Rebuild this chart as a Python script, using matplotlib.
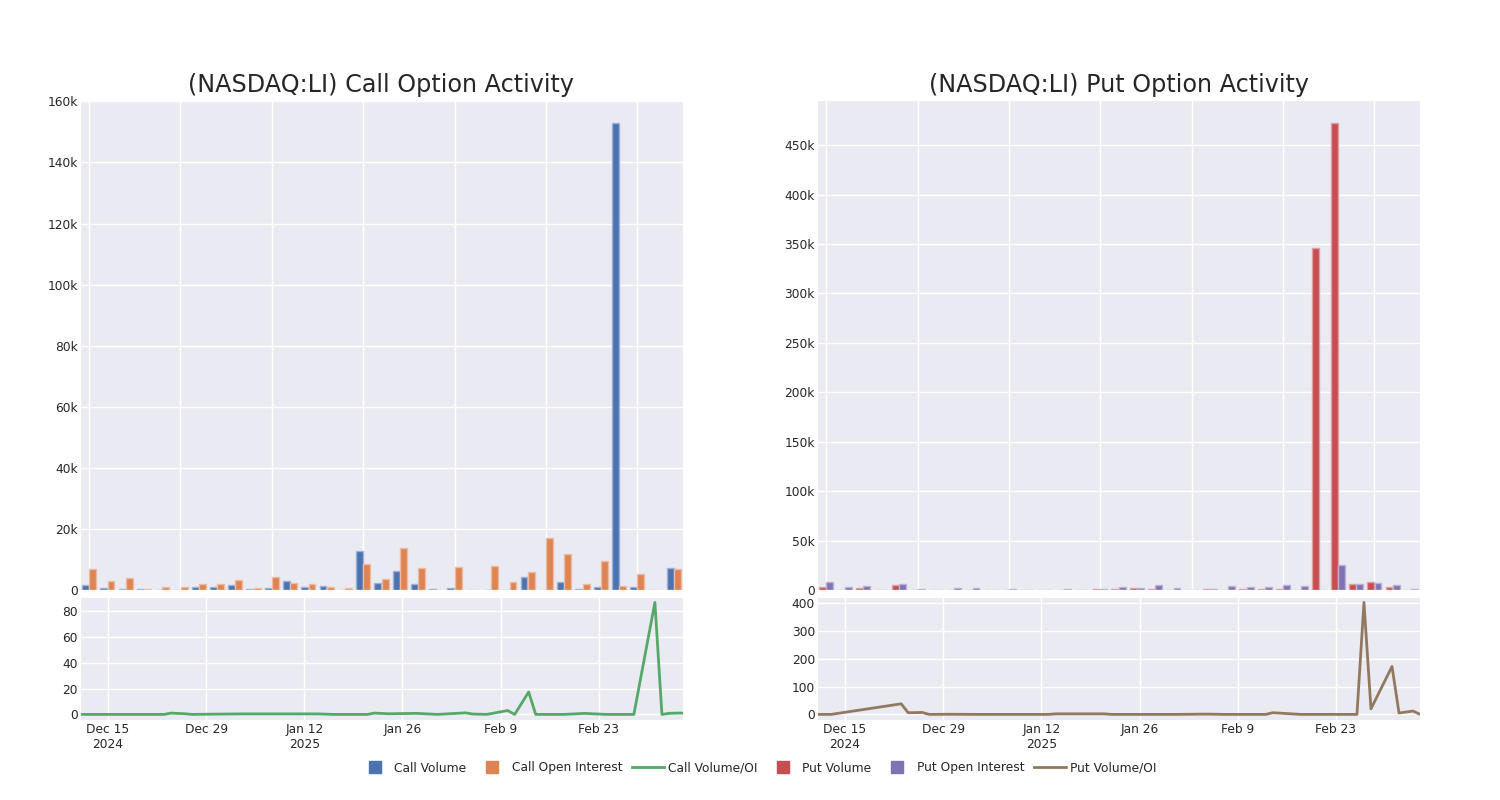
#!/usr/bin/env python3
import pandas as pd
import matplotlib

# Use non-interactive backend for headless environments
matplotlib.use("Agg")
import matplotlib.pyplot as plt  # noqa: E402
import matplotlib.colors as mcolors  # noqa: E402
from matplotlib.lines import Line2D  # noqa: E402
from matplotlib.ticker import FuncFormatter, MultipleLocator  # noqa: E402

# -------------------------------
# Data
# -------------------------------
call_volume = [1.6, 0.6, 0.2, 0.2, 0.1, 0.0, 1.0, 0.9, 1.7, 0.2, 0.7,
               3.0, 1.0, 1.3, 0.0, 12.8, 2.2, 6.3, 1.9, 0.2, 0.6, 0.1,
               0.1, 0.1, 4.2, 0.0, 2.7, 0.2, 1.0, 152.8, 1.0, 0.1, 7.2]
call_open_interest = [7.0, 3.0, 4.0, 0.2, 1.0, 0.9, 2.1, 2.1, 3.3, 0.7, 4.2,
                      2.4, 2.1, 0.9, 0.6, 8.6, 3.7, 13.9, 7.2, 0.0, 7.4, 0.0,
                      7.7, 2.7, 5.8, 17.1, 11.7, 2.1, 9.6, 1.4, 5.2, 0.1, 7.0]
put_volume = [3.4, 0.0, 2.4, 0.3, 5.1, 0.3, 0.2, 0.3, 0.0, 0.3, 0.3,
              0.3, 0.2, 0.0, 0.2, 1.0, 1.0, 2.0, 0.7, 0.3, 0.0, 0.7,
              0.3, 0.7, 0.7, 1.3, 0.3, 346.0, 472.0, 6.1, 8.4, 2.7, 0.3]
put_open_interest = [8.4, 3.4, 4.4, 0.0, 5.7, 0.7, 0.0, 2.0, 2.0, 0.2, 1.3,
                     0.3, 0.0, 0.7, 0.2, 1.0, 3.0, 1.7, 5.1, 2.0, 0.0, 1.0,
                     4.0, 2.7, 2.7, 4.7, 4.4, 0.3, 25.0, 6.4, 7.1, 4.7, 1.3]

ratio_dates = ["2024-12-11", "2024-12-13", "2024-12-23", "2024-12-24", "2024-12-26",
               "2024-12-27", "2024-12-30", "2025-01-03", "2025-01-08", "2025-01-13",
               "2025-01-14", "2025-01-16", "2025-01-21", "2025-01-22", "2025-01-24",
               "2025-01-28", "2025-01-31", "2025-02-04", "2025-02-05", "2025-02-07",
               "2025-02-10", "2025-02-11", "2025-02-13", "2025-02-14", "2025-02-18",
               "2025-02-21", "2025-02-24", "2025-02-26", "2025-02-27", "2025-02-28",
               "2025-03-03", "2025-03-04", "2025-03-05", "2025-03-06", "2025-03-07"]
call_vol_oi = [0.0, 0.0, 0.0, 1.0, 0.5, 0.0, 0.2, 0.4, 0.4, 0.4,
               0.4, 0.0, 0.0, 1.0, 0.5, 0.8, 0.0, 1.2, 0.3, 0.0,
               3.0, 0.0, 17.4, 0.0, 0.0, 0.8, 0.0, 0.0, 0.0, 0.0,
               87.0, 0.0, 0.8, 1.0, 1.0]
put_vol_oi = [0.0, 0.0, 38.0, 6.0, 7.0, 0.0, 0.5, 0.0, 0.0, 0.0,
              2.0, 2.0, 2.0, 0.0, 0.0, 0.0, 0.0, 1.0, 1.0, 0.0,
              0.0, 0.0, 0.0, 6.0, 0.0, 0.0, 0.0, 0.0, 402.0, 20.0,
              172.0, 5.0, 8.5, 12.0, 0.0]

date_ticks = ["2024-12-15", "2024-12-29", "2025-01-12", "2025-01-26", "2025-02-09", "2025-02-23"]
date_tick_labels = ["Dec 15\n2024", "Dec 29", "Jan 12\n2025", "Jan 26", "Feb 9", "Feb 23"]

COLORS = {
    "call_vol": "#4C72B0",
    "call_oi": "#DD8452",
    "call_ratio": "#55A868",
    "put_vol": "#C44E52",
    "put_oi": "#8172B3",
    "put_ratio": "#937860",
}

SMALL = 8.8

plt.rcParams.update({
    "font.family": ["DejaVu Sans"],
    "axes.facecolor": "#EAEAF2",
    "axes.edgecolor": "white",
    "axes.grid": True,
    "grid.color": "white",
    "grid.linewidth": 1.0,
    "axes.axisbelow": True,
    "xtick.color": "#262626",
    "ytick.color": "#262626",
    "text.color": "#262626",
    "xtick.major.size": 0,
    "ytick.major.size": 0,
    "xtick.major.pad": 2.5,
    "ytick.major.pad": 1.5,
    "xtick.labelsize": SMALL,
    "ytick.labelsize": SMALL,
})


def lighten(color, amount=0.45):
    r, g, b = mcolors.to_rgb(color)
    return (r + (1 - r) * amount, g + (1 - g) * amount, b + (1 - b) * amount)


def k_fmt(v, _pos):
    return "0" if v == 0 else f"{int(round(v))}k"


def draw_panel(fig, left, title, vol, oi, ratio, c_vol, c_oi, c_ratio, ystep, rstep):
    ax_top = fig.add_axes([left, 0.2625, 0.402, 0.6125])
    ax_bot = fig.add_axes([left, 0.1, 0.402, 0.154])

    # grouped bars (categorical positions)
    idx = list(range(len(vol)))
    w = 0.38
    ax_top.bar([i - 0.2 for i in idx], vol, width=w, color=c_vol,
               edgecolor=lighten(c_vol), linewidth=1)
    ax_top.bar([i + 0.2 for i in idx], oi, width=w, color=c_oi,
               edgecolor=lighten(c_oi), linewidth=1)
    ax_top.set_xlim(-0.5, len(vol) - 0.5)
    ax_top.set_xticks(range(0, len(vol), 5))
    ax_top.set_xticklabels([])
    ax_top.set_ylim(0, max(max(vol), max(oi)) * 1.05)
    ax_top.yaxis.set_major_locator(MultipleLocator(ystep))
    ax_top.yaxis.set_major_formatter(FuncFormatter(k_fmt))
    ax_top.set_title(title, fontsize=17.2, pad=6)

    # volume / open interest ratio line
    dates = pd.to_datetime(ratio_dates)
    ax_bot.plot(dates, ratio, color=c_ratio, linewidth=2)
    ax_bot.set_xlim(dates[0], dates[-1])
    ax_bot.set_xticks(pd.to_datetime(date_ticks))
    ax_bot.set_xticklabels(date_tick_labels)
    ax_bot.yaxis.set_major_locator(MultipleLocator(rstep))
    return ax_top, ax_bot


def main():
    fig = plt.figure(figsize=(15, 8), dpi=100)

    draw_panel(fig, 0.0533, "(NASDAQ:LI) Call Option Activity",
               call_volume, call_open_interest, call_vol_oi,
               COLORS["call_vol"], COLORS["call_oi"], COLORS["call_ratio"], 20, 20)
    draw_panel(fig, 0.5447, "(NASDAQ:LI) Put Option Activity",
               put_volume, put_open_interest, put_vol_oi,
               COLORS["put_vol"], COLORS["put_oi"], COLORS["put_ratio"], 50, 100)

    sq = dict(marker="s", linestyle="none", markersize=8.6)
    handles = [
        Line2D([], [], color=COLORS["call_vol"], **sq),
        Line2D([], [], color=COLORS["call_oi"], **sq),
        Line2D([], [], color=COLORS["call_ratio"], linewidth=2),
        Line2D([], [], color=COLORS["put_vol"], **sq),
        Line2D([], [], color=COLORS["put_oi"], **sq),
        Line2D([], [], color=COLORS["put_ratio"], linewidth=2),
    ]
    labels = ["Call Volume", "Call Open Interest", "Call Volume/OI",
              "Put Volume", "Put Open Interest", "Put Volume/OI"]
    fig.legend(handles, labels, loc="center", bbox_to_anchor=(0.505, 0.04),
               ncol=6, frameon=False, fontsize=SMALL, handlelength=2.6,
               columnspacing=0.8, handletextpad=0.3)

    fig.savefig("out.png", dpi=100)
    plt.close(fig)


if __name__ == "__main__":
    main()
